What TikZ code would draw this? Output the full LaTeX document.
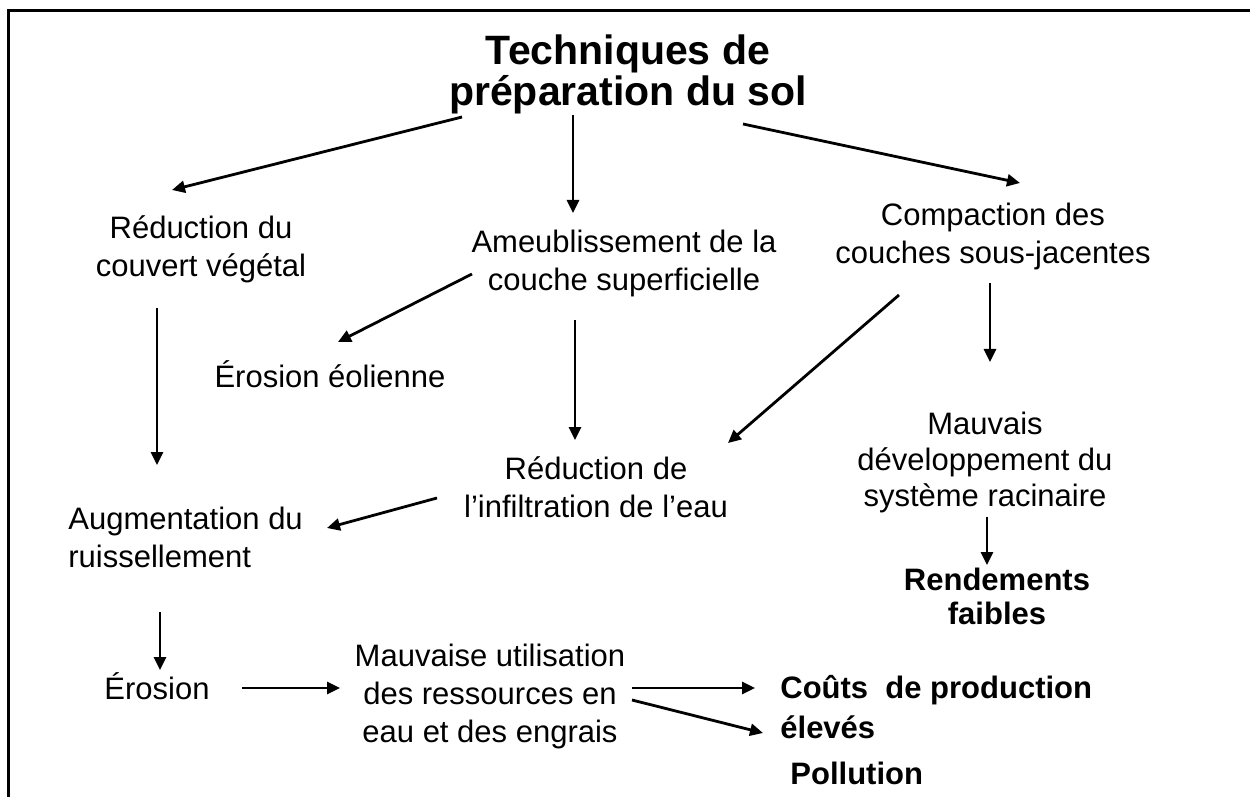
\documentclass[tikz,border=0pt]{standalone}
\usepackage{fontspec}
\setmainfont{Liberation Sans}
\usetikzlibrary{arrows.meta}

\begin{document}
\begin{tikzpicture}[x=0.5pt,y=-0.5pt,
    txt/.style={inner sep=0pt,align=center,font=\fontsize{15.5}{19}\selectfont},
    txtb/.style={txt,font=\fontsize{15.5}{19}\selectfont\bfseries},
    arr/.style={line width=1.4pt,-{Triangle[length=6.5pt,width=6pt]}}]
    \useasboundingbox (0,0) rectangle (1250,797);
    \draw[line width=1.5pt] (8,797) -- (8,11) -- (1250,11);
    % les noeuds
    \node[txt,font=\fontsize{20.5}{20.5}\selectfont\bfseries] (title) at (628,74) {Techniques de\\préparation du sol};
    \node[txt] (reduc) at (201,249) {Réduction du\\couvert végétal};
    \node[txt] (ameub) at (624,263) {Ameublissement de la\\couche superficielle};
    \node[txt] (compac) at (993,236) {Compaction des\\couches sous-jacentes};
    \node[txt] (eolien) at (330,374) {Érosion éolienne};
    \node[txt] (infil) at (596,487) {Réduction de\\l’infiltration de l’eau};
    \node[txt,font=\fontsize{15.5}{18}\selectfont] (mauv) at (985,462) {Mauvais\\développement du\\système racinaire};
    \node[txtb,font=\fontsize{15.5}{17}\selectfont\bfseries] (rend) at (997,596) {Rendements\\faibles};
    \node[txt,align=left,anchor=west] (augm) at (68,537) {Augmentation du\\ruissellement};
    \node[txt] (eros) at (157,686) {Érosion};
    \node[txt] (mauvut) at (490,696) {Mauvaise utilisation\\des ressources en\\eau et des engrais};
    \node[txtb,align=left,anchor=west,font=\fontsize{15.5}{20}\selectfont\bfseries] (couts) at (780,707) {Coûts\ \ de production\\élevés};
    \node[txtb,anchor=west] (pollu) at (790,773) {Pollution};
    % les fleches
    \draw[arr] ([shift={(-166,43)}]title.center) -- ([shift={(-29,-59)}]reduc.center);
    \draw[arr] ([shift={(-55,41)}]title.center) -- ([shift={(-51,-50)}]ameub.center);
    \draw[arr] ([shift={(115,50)}]title.center) -- ([shift={(27,-53)}]compac.center);
    \draw[arr] ([shift={(-44,59)}]reduc.center) -- ([shift={(89,-72)}]augm.west);
    \draw[arr] ([shift={(-152,11)}]ameub.center) -- ([shift={(8,-32)}]eolien.center);
    \draw[arr] ([shift={(-49,57)}]ameub.center) -- ([shift={(-21,-47)}]infil.center);
    \draw[arr] ([shift={(-94,59)}]compac.center) -- ([shift={(132,-44)}]infil.center);
    \draw[arr] ([shift={(-3,47)}]compac.center) -- ([shift={(5,-100)}]mauv.center);
    \draw[arr] ([shift={(2,55)}]mauv.center) -- ([shift={(-10,-31)}]rend.center);
    \draw[arr] ([shift={(-159,11)}]infil.center) -- ([shift={(259,-9)}]augm.west);
    \draw[arr] ([shift={(92,75)}]augm.west) -- ([shift={(3,-16)}]eros.center);
    \draw[arr] ([shift={(85,2)}]eros.center) -- ([shift={(-150,-8)}]mauvut.center);
    \draw[arr] ([shift={(142,-8)}]mauvut.center) -- ([shift={(-25,-19)}]couts.west);
    \draw[arr] ([shift={(142,4)}]mauvut.center) -- ([shift={(-27,-40)}]pollu.west);
\end{tikzpicture}
\end{document}
